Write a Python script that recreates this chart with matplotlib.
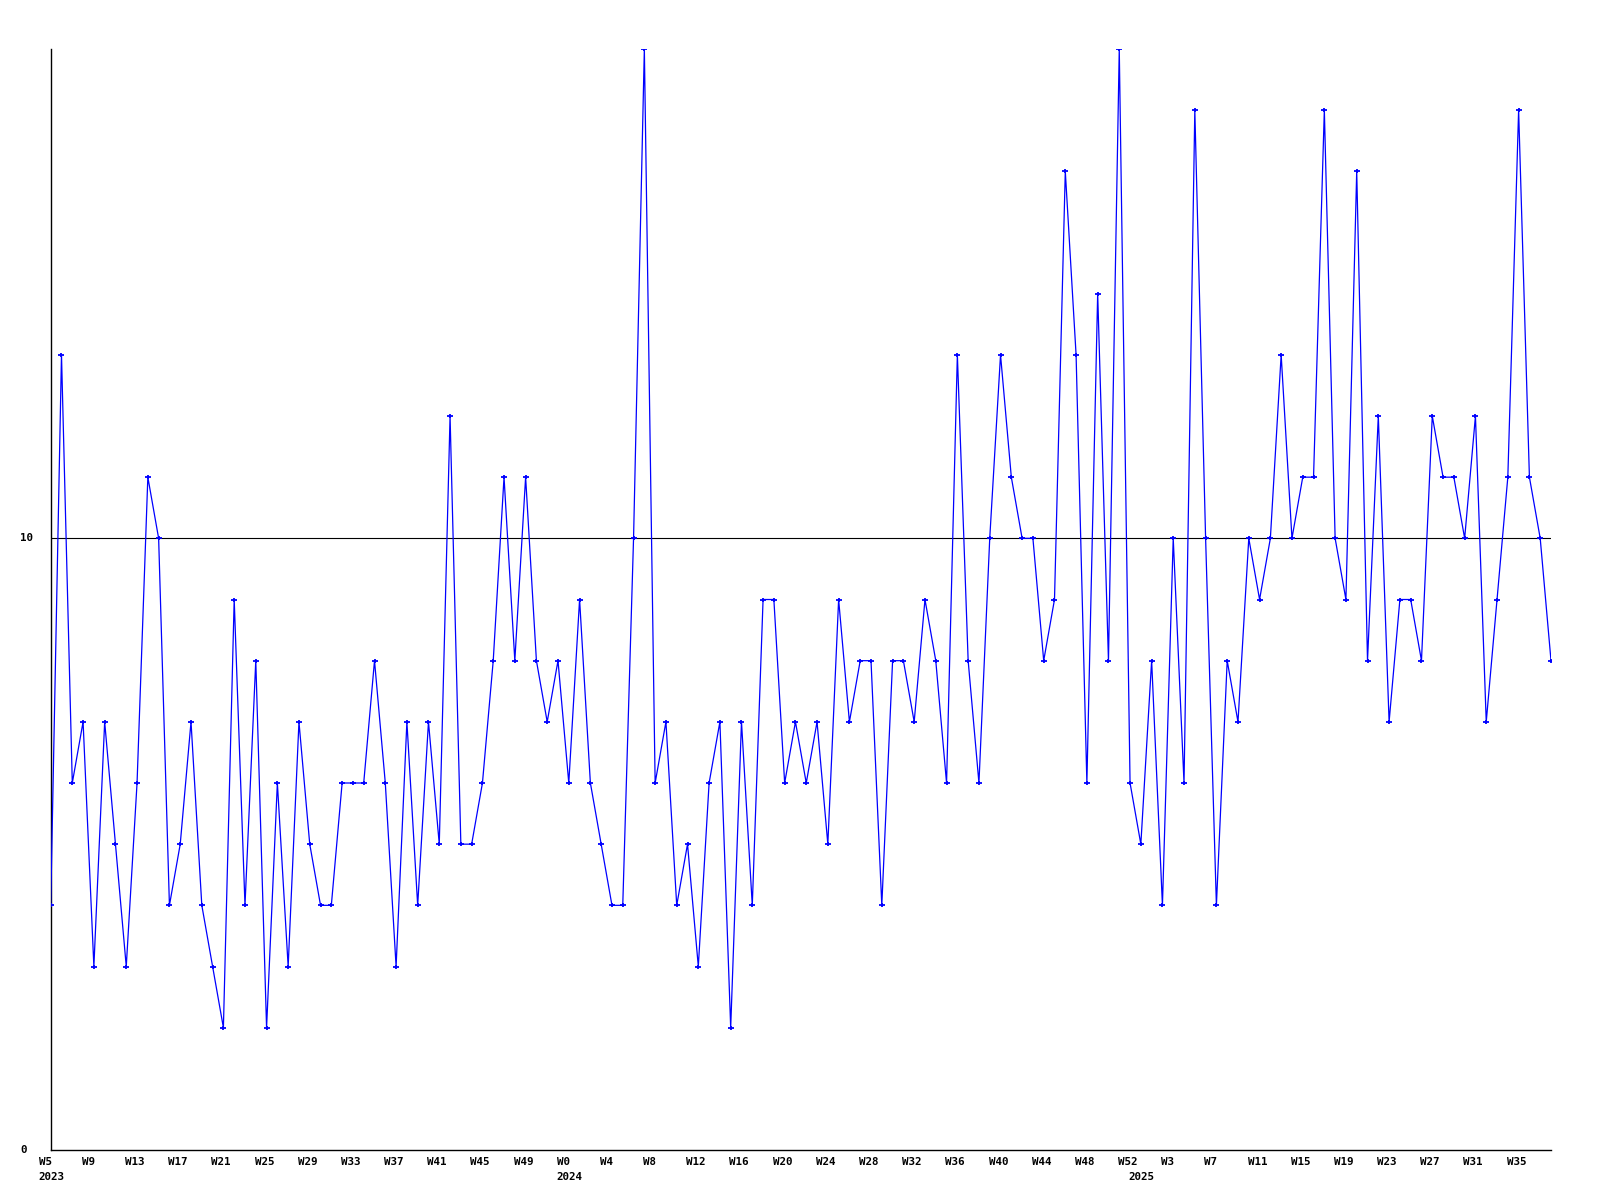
import matplotlib
matplotlib.use("Agg")
import matplotlib.pyplot as plt
import matplotlib.transforms as mtransforms
from matplotlib.path import Path

# ---- data ----
years = ["2023"] * 48 + ["2024"] * 53 + ["2025"] * 39
weeks = [f"W{w}" for w in range(5, 53)] + [f"W{w}" for w in range(0, 53)] + [f"W{w}" for w in range(0, 39)]
values = [
    4, 13, 6, 7, 3, 7, 5, 3, 6, 11, 10, 4, 5, 7, 4, 3, 2, 9, 4, 8,
    2, 6, 3, 7, 5, 4, 4, 6, 6, 6, 8, 6, 3, 7, 4, 7, 5, 12, 5, 5,
    6, 8, 11, 8, 11, 8, 7, 8, 6, 9, 6, 5, 4, 4, 10, 18, 6, 7, 4, 5,
    3, 6, 7, 2, 7, 4, 9, 9, 6, 7, 6, 7, 5, 9, 7, 8, 8, 4, 8, 8,
    7, 9, 8, 6, 13, 8, 6, 10, 13, 11, 10, 10, 8, 9, 16, 13, 6, 14, 8, 18,
    6, 5, 8, 4, 10, 6, 17, 10, 4, 8, 7, 10, 9, 10, 13, 10, 11, 11, 17, 10,
    9, 16, 8, 12, 7, 9, 9, 8, 12, 11, 11, 10, 12, 7, 9, 11, 17, 11, 10, 8,
]
ref_value = 10
y_ticks = [0, 10]

# ---- figure ----
W, H, DPI = 1600, 1200, 100
fig = plt.figure(figsize=(W / DPI, H / DPI), dpi=DPI, facecolor="white")
left, right, top, bottom = 50.7, 1551, 49, 1150
ax = fig.add_axes([left / W, 1 - bottom / H, (right - left) / W, (bottom - top) / H])
ax.set_facecolor("white")

# small plus-shaped marker: wide horizontal arm, short vertical arm
plus_marker = Path([(-1, 0), (1, 0), (0, -0.6), (0, 0.6)],
                   [Path.MOVETO, Path.LINETO, Path.MOVETO, Path.LINETO])

x = list(range(len(values)))
ax.plot(x, values, color="#0000ff", lw=0.9, zorder=3)
ax.plot(x, values, ls="none", marker=plus_marker, ms=4.2, mew=1.3,
        mec="#0000ff", mfc="#0000ff", zorder=4)
ax.axhline(ref_value, color="black", lw=0.8, zorder=2)

ax.set_xlim(0, len(values) - 1)
ax.set_ylim(0, 18)
for s in ["top", "right"]:
    ax.spines[s].set_visible(False)
for s in ["left", "bottom"]:
    ax.spines[s].set_color("black")
    ax.spines[s].set_linewidth(1.0)
ax.set_xticks([])
ax.set_yticks([])

font = dict(family="DejaVu Sans Mono", weight="bold", size=7.8, color="black")

# y labels, left-aligned at fixed x in figure
ytrans = mtransforms.blended_transform_factory(fig.transFigure, ax.transData)
for v in y_ticks:
    ax.text(20 / W, v, str(v), transform=ytrans, ha="left", va="center", **font)

# x labels: every 4th week; year at first week of each year
offset = mtransforms.ScaledTranslation(-12 / DPI, 0, fig.dpi_scale_trans)
xtrans = mtransforms.blended_transform_factory(ax.transData, fig.transFigure) + offset
for i in range(0, len(values), 4):
    ax.text(i, 1 - 1162 / H, weeks[i], transform=xtrans, ha="left", va="center", clip_on=False, **font)
prev = None
for i, yr in enumerate(years):
    if yr != prev:
        ax.text(i, 1 - 1177 / H, yr, transform=xtrans, ha="left", va="center", clip_on=False, **font)
        prev = yr

fig.savefig("out.png", dpi=DPI, facecolor="white")
